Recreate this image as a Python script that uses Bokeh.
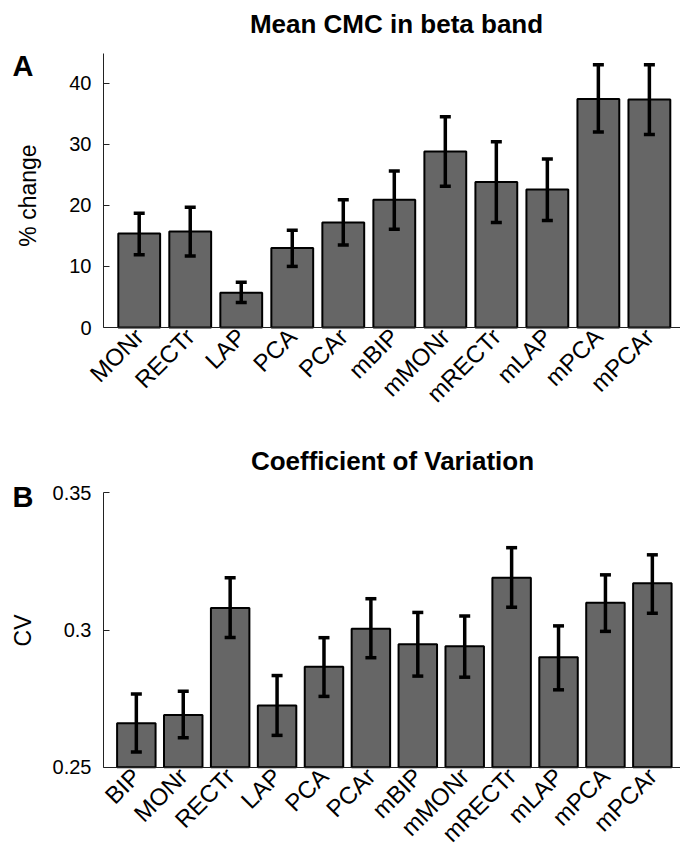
import math
from bokeh.plotting import figure
from bokeh.models import ColumnDataSource, Whisker, TeeHead, FixedTicker, Label, Range1d
from bokeh.layouts import column
from bokeh.embed import file_html
from bokeh.resources import INLINE

FONT = "Liberation Sans"

# Panel A data
cats_a = ["MONr", "RECTr", "LAP", "PCA", "PCAr", "mBIP", "mMONr", "mRECTr", "mLAP", "mPCA", "mPCAr"]
mean_a = [15.4, 15.7, 5.7, 13.0, 17.2, 20.9, 28.8, 23.8, 22.6, 37.4, 37.3]
upper_a = [18.7, 19.7, 7.4, 15.9, 20.9, 25.6, 34.5, 30.4, 27.6, 43.0, 43.0]
lower_a = [11.9, 11.7, 4.1, 10.0, 13.5, 16.1, 23.1, 17.2, 17.5, 32.0, 31.6]
yticks_a = [0, 10, 20, 30, 40]
ytick_labels_a = ["0", "10", "20", "30", "40"]

# Panel B data
cats_b = ["BIP", "MONr", "RECTr", "LAP", "PCA", "PCAr", "mBIP", "mMONr", "mRECTr", "mLAP", "mPCA", "mPCAr"]
mean_b = [0.266, 0.269, 0.308, 0.2725, 0.2866, 0.3005, 0.2948, 0.2941, 0.319, 0.2901, 0.3099, 0.317]
upper_b = [0.2767, 0.2777, 0.319, 0.2834, 0.2972, 0.3114, 0.3064, 0.3051, 0.330, 0.3015, 0.3201, 0.3274]
lower_b = [0.2555, 0.2607, 0.2973, 0.2616, 0.2758, 0.2899, 0.2832, 0.2828, 0.3083, 0.2782, 0.2995, 0.3061]
yticks_b = [0.25, 0.3, 0.35]
ytick_labels_b = ["0.25", "0.3", "0.35"]

AXIS_PX = 103      # canvas x of the y axis line
FIG_W = 680
XSTART = 0.3       # data x where the axes start


def make_panel(cats, mean, upper, lower, yticks, ylabels, y0, ytop, title, letter, ylab,
               height, y0_px, ytop_px, xr1, title_xy, letter_xy, ylab_xy):
    n = len(cats)
    x = list(range(1, n + 1))
    unit = (FIG_W - AXIS_PX) / (xr1 - XSTART)
    xr0 = XSTART - AXIS_PX / unit
    ppu = (y0_px - ytop_px) / (ytop - y0)
    ylo = y0 - (height - y0_px) / ppu
    yhi = ytop + ytop_px / ppu
    p = figure(width=FIG_W, height=height, output_backend="svg", toolbar_location=None,
               x_range=Range1d(xr0, xr1), y_range=Range1d(ylo, yhi),
               min_border_left=0, min_border_right=0, min_border_top=0,
               min_border_bottom=0)
    p.outline_line_color = None
    p.xgrid.visible = False
    p.ygrid.visible = False
    p.background_fill_color = "white"
    p.border_fill_color = "white"

    src = ColumnDataSource(dict(x=x, top=mean, upper=upper, lower=lower))
    p.vbar(x="x", top="top", bottom=y0, width=0.82, source=src,
           fill_color="#666666", line_color="black", line_width=2)
    w = Whisker(base="x", upper="upper", lower="lower", source=src,
                line_color="black", line_width=3.5, level="overlay",
                upper_head=TeeHead(size=11, line_width=3.5, line_color="black"),
                lower_head=TeeHead(size=11, line_width=3.5, line_color="black"))
    p.add_layout(w)

    # y axis drawn inside the full-size frame
    ya = p.yaxis[0]
    ya.fixed_location = XSTART
    ya.bounds = (y0, ytop)
    ya.ticker = FixedTicker(ticks=yticks)
    ya.major_label_overrides = {t: l for t, l in zip(yticks, ylabels)}
    ya.major_tick_in = 6
    ya.major_tick_out = 0
    ya.minor_tick_line_color = None
    ya.major_label_text_font = FONT
    ya.major_label_text_font_size = "20px"
    ya.major_label_text_color = "black"
    ya.major_label_standoff = 12
    ya.axis_line_color = "#222222"
    ya.major_tick_line_color = "#222222"

    # x axis drawn inside the frame at y0
    xa = p.xaxis[0]
    xa.fixed_location = y0
    xa.bounds = (XSTART, xr1)
    xa.ticker = FixedTicker(ticks=x)
    xa.major_label_overrides = {i: c for i, c in zip(x, cats)}
    xa.major_label_orientation = math.pi / 4
    xa.major_tick_in = 0
    xa.major_tick_out = 0
    xa.minor_tick_line_color = None
    xa.major_label_text_font = FONT
    xa.major_label_text_font_size = "24px"
    xa.major_label_text_color = "black"
    xa.major_label_standoff = 5
    xa.axis_line_color = "#222222"

    # texts (screen units: from frame bottom-left, y up)
    p.add_layout(Label(x=title_xy[0], y=height - title_xy[1], x_units="screen", y_units="screen",
                       text=title, text_font=FONT, text_font_size="26px", text_font_style="bold",
                       text_align="center", text_baseline="middle", text_color="black"))
    p.add_layout(Label(x=letter_xy[0], y=height - letter_xy[1], x_units="screen", y_units="screen",
                       text=letter, text_font=FONT, text_font_size="29px", text_font_style="bold",
                       text_align="left", text_baseline="middle", text_color="black"))
    p.add_layout(Label(x=ylab_xy[0], y=height - ylab_xy[1], x_units="screen", y_units="screen",
                       text=ylab, angle=math.pi / 2, text_font=FONT, text_font_size="23px",
                       text_align="center", text_baseline="middle", text_color="black"))
    return p


pa = make_panel(cats_a, mean_a, upper_a, lower_a, yticks_a, ytick_labels_a,
                0, 44.8, "Mean CMC in beta band", "A", "% change",
                430, 327, 53.3, 11.61, (396, 23), (12, 65), (27, 195))
pb = make_panel(cats_b, mean_b, upper_b, lower_b, yticks_b, ytick_labels_b,
                0.25, 0.35, "Coefficient of Variation", "B", "CV",
                426, 336.7, 62.3, 12.6, (392, 30), (12, 66), (22, 200))

layout = column(pa, pb)
open("out.html", "w").write(file_html(layout, INLINE))
